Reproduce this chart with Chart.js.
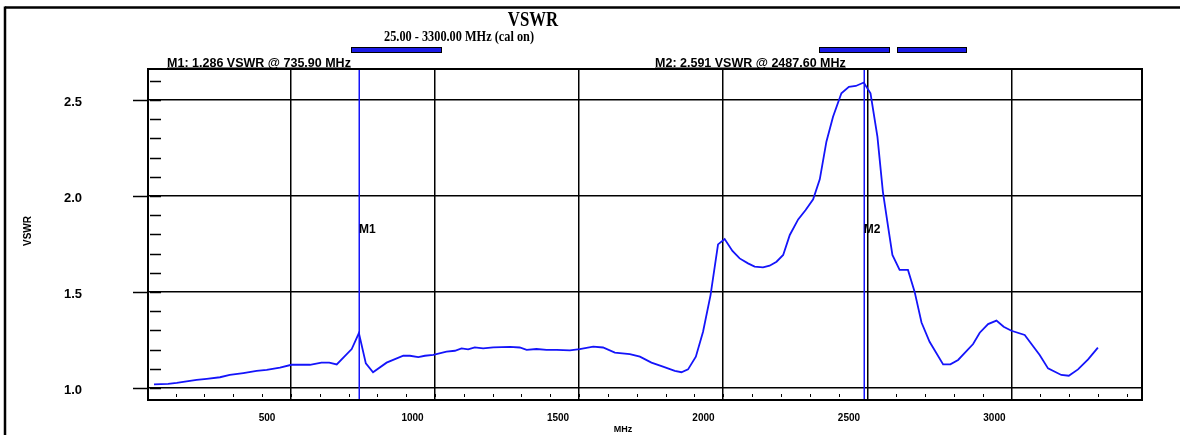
<!DOCTYPE html>
<html>
<head>
<meta charset="utf-8">
<script src="https://cdn.jsdelivr.net/npm/chart.js@4/dist/chart.umd.min.js"></script>
<style>
  body { margin: 0; background: #fff; }
  canvas { display: block; }
</style>
</head>
<body>
<canvas id="chart" width="1180" height="435"></canvas>
<script>
// sweep 25 - 3300 MHz
const freqs = [
  25, 74, 104, 138, 173, 208, 254, 288, 335, 381, 416, 462, 502, 566,
  606, 633, 659, 711, 735.9, 760, 785, 832, 890, 913, 942, 965, 994,
  1040, 1069, 1092, 1115, 1138, 1167, 1202, 1260, 1294, 1318, 1352, 1387,
  1422, 1468, 1502, 1549, 1583, 1624, 1676, 1711, 1751, 1791, 1832, 1855,
  1878, 1905, 1930, 1956, 1982, 2005, 2032, 2057, 2086, 2109, 2138, 2161,
  2185, 2208, 2231, 2260, 2286, 2312, 2335, 2358, 2381, 2410, 2436, 2460,
  2487.6, 2511, 2535, 2554, 2572, 2587, 2612, 2641, 2664, 2688, 2716, 2763,
  2788, 2815, 2867, 2890, 2919, 2948, 2973, 3000, 3046, 3098, 3127, 3173,
  3199, 3231, 3266, 3300
];
const vswr = [
  1.019, 1.022, 1.027, 1.035, 1.042, 1.048, 1.056, 1.068, 1.078, 1.089, 1.094, 1.106, 1.121, 1.121,
  1.132, 1.132, 1.123, 1.203, 1.286, 1.128, 1.082, 1.132, 1.168, 1.168, 1.161, 1.168, 1.172,
  1.189, 1.194, 1.206, 1.201, 1.212, 1.206, 1.212, 1.214, 1.211, 1.199, 1.203, 1.199,
  1.199, 1.196, 1.203, 1.215, 1.211, 1.184, 1.177, 1.163, 1.132, 1.111, 1.089, 1.082,
  1.097, 1.163, 1.293, 1.484, 1.748, 1.776, 1.714, 1.675, 1.649, 1.632, 1.628, 1.637,
  1.658, 1.693, 1.797, 1.878, 1.927, 1.983, 2.087, 2.283, 2.413, 2.535, 2.569, 2.573,
  2.591, 2.535, 2.309, 2.022, 1.840, 1.693, 1.615, 1.615, 1.502, 1.341, 1.241, 1.123,
  1.123, 1.146, 1.229, 1.288, 1.333, 1.351, 1.319, 1.298, 1.276, 1.172, 1.102, 1.068,
  1.064, 1.097, 1.149, 1.210
];

const xTicks = [500, 1000, 1500, 2000, 2500, 3000];
const yTicks = [1.0, 1.5, 2.0, 2.5];

const markerNames = ['M1', 'M2'];
const markerFreqs = [735.9, 2487.6];
const markerValues = [1.286, 2.591];

const BLUE = 'rgb(20,20,250)';
const SANS = '"Liberation Sans", Arial, sans-serif';
const SERIF = '"Liberation Serif", "Times New Roman", serif';

function line(ctx, x1, y1, x2, y2) {
  ctx.beginPath();
  ctx.moveTo(x1, y1);
  ctx.lineTo(x2, y2);
  ctx.stroke();
}

function bar(ctx, x1, x2) {
  ctx.fillStyle = '#1a1ae6';
  ctx.fillRect(x1, 48, x2 - x1, 5);
  ctx.strokeStyle = '#000';
  ctx.lineWidth = 1;
  ctx.strokeRect(x1 + 0.5, 47.5, x2 - x1 - 1, 5);
}

const analyzerFrame = {
  id: 'analyzerFrame',
  afterDatasetsDraw(chart) {
    const { ctx, chartArea: a, scales: { x, y } } = chart;
    ctx.save();

    // markers
    ctx.strokeStyle = BLUE;
    ctx.lineWidth = 1.5;
    markerFreqs.forEach(f => {
      const px = Math.round(x.getPixelForValue(f)) + 0.25;
      line(ctx, px, a.top, px, a.bottom);
    });

    // minor ticks on y
    ctx.strokeStyle = '#000';
    ctx.lineWidth = 1.5;
    for (let v = 1.0; v <= 2.65; v += 0.1) {
      const py = Math.round(y.getPixelForValue(v)) + 0.5;
      line(ctx, a.left + 2, py, a.left + 13, py);
    }
    yTicks.forEach(v => {
      const py = Math.round(y.getPixelForValue(v)) + 0.5;
      line(ctx, a.left - 15, py, a.left, py);
    });

    // minor ticks on x
    ctx.lineWidth = 1;
    for (let f = 100; f <= 3400; f += 100) {
      const px = Math.round(x.getPixelForValue(f)) + 0.5;
      line(ctx, px, a.bottom - 6, px, a.bottom - 3);
    }

    // plot box
    ctx.lineWidth = 2;
    ctx.strokeRect(a.left, a.top, a.right - a.left, a.bottom - a.top);

    // outer frame
    ctx.lineWidth = 2.5;
    line(ctx, 5, 7.5, 1180, 7.5);
    line(ctx, 5, 6.5, 5, 435);

    bar(ctx, 351, 442);
    bar(ctx, 819, 890);
    bar(ctx, 897, 967);

    // titles
    ctx.fillStyle = '#000';
    ctx.strokeStyle = '#000';
    ctx.textAlign = 'center';
    ctx.textBaseline = 'middle';
    ctx.save();
    ctx.translate(533, 21);
    ctx.scale(0.8, 1);
    ctx.font = 'bold 21px ' + SERIF;
    ctx.fillText('VSWR', 0, 0);
    ctx.restore();
    ctx.save();
    ctx.translate(459, 37);
    ctx.scale(0.82, 1);
    ctx.font = 'bold 15px ' + SERIF;
    ctx.fillText('25.00 - 3300.00 MHz (cal on)', 0, 0);
    ctx.restore();

    // marker readouts above the plot
    const shift = [8, 18];
    ctx.font = 'bold 12.5px ' + SANS;
    ctx.textAlign = 'right';
    ctx.textBaseline = 'alphabetic';
    ctx.lineWidth = 1;
    markerNames.forEach((n, i) => {
      const txt = n + ': ' + markerValues[i].toFixed(3) + ' VSWR @ ' + markerFreqs[i].toFixed(2) + ' MHz';
      const right = x.getPixelForValue(markerFreqs[i]) - shift[i];
      ctx.fillText(txt, right, 67);
      const w = ctx.measureText(txt).width;
      line(ctx, right - w, 68, right, 68);
    });

    // marker tags
    ctx.font = 'bold 12px ' + SANS;
    ctx.textAlign = 'left';
    ctx.textBaseline = 'middle';
    markerNames.forEach((n, i) => {
      ctx.fillText(n, x.getPixelForValue(markerFreqs[i]), y.getPixelForValue(1.824));
    });

    // tick labels
    ctx.textAlign = 'center';
    ctx.font = 'bold 13px ' + SANS;
    yTicks.forEach(v => {
      ctx.fillText(v.toFixed(1), 73, y.getPixelForValue(v) + 2);
    });
    ctx.font = 'bold 10px ' + SANS;
    xTicks.forEach(v => {
      // the analyzer prints these a little left of their grid lines
      ctx.fillText(String(v), x.getPixelForValue(v) - 25.2 + 0.00273 * v, 418);
    });

    // axis titles
    ctx.font = 'bold 9px ' + SANS;
    ctx.fillText('MHz', 623, 430);
    ctx.save();
    ctx.translate(28, 231);
    ctx.rotate(-Math.PI / 2);
    ctx.font = 'bold 10px ' + SANS;
    ctx.fillText('VSWR', 0, 0);
    ctx.restore();

    ctx.restore();
  }
};

new Chart(document.getElementById('chart'), {
  type: 'scatter',
  data: {
    datasets: [{
      data: freqs.map((f, i) => ({ x: f, y: vswr[i] })),
      showLine: true,
      borderColor: BLUE,
      borderWidth: 1.8,
      pointRadius: 0,
      tension: 0
    }]
  },
  options: {
    responsive: false,
    animation: false,
    layout: { padding: { left: 148, top: 69, right: 38, bottom: 35 } },
    plugins: { legend: { display: false }, tooltip: { enabled: false } },
    scales: {
      x: {
        type: 'linear',
        min: 4.2,
        max: 3453,
        afterBuildTicks: s => { s.ticks = xTicks.map(v => ({ value: v })); },
        ticks: { display: false },
        grid: { color: '#000', lineWidth: 1.5, drawTicks: false },
        border: { display: false }
      },
      y: {
        type: 'linear',
        min: 0.9375,
        max: 2.6615,
        afterBuildTicks: s => { s.ticks = yTicks.map(v => ({ value: v })); },
        ticks: { display: false },
        grid: { color: '#000', lineWidth: 1.5, drawTicks: false },
        border: { display: false }
      }
    }
  },
  plugins: [analyzerFrame]
});
</script>
</body>
</html>
